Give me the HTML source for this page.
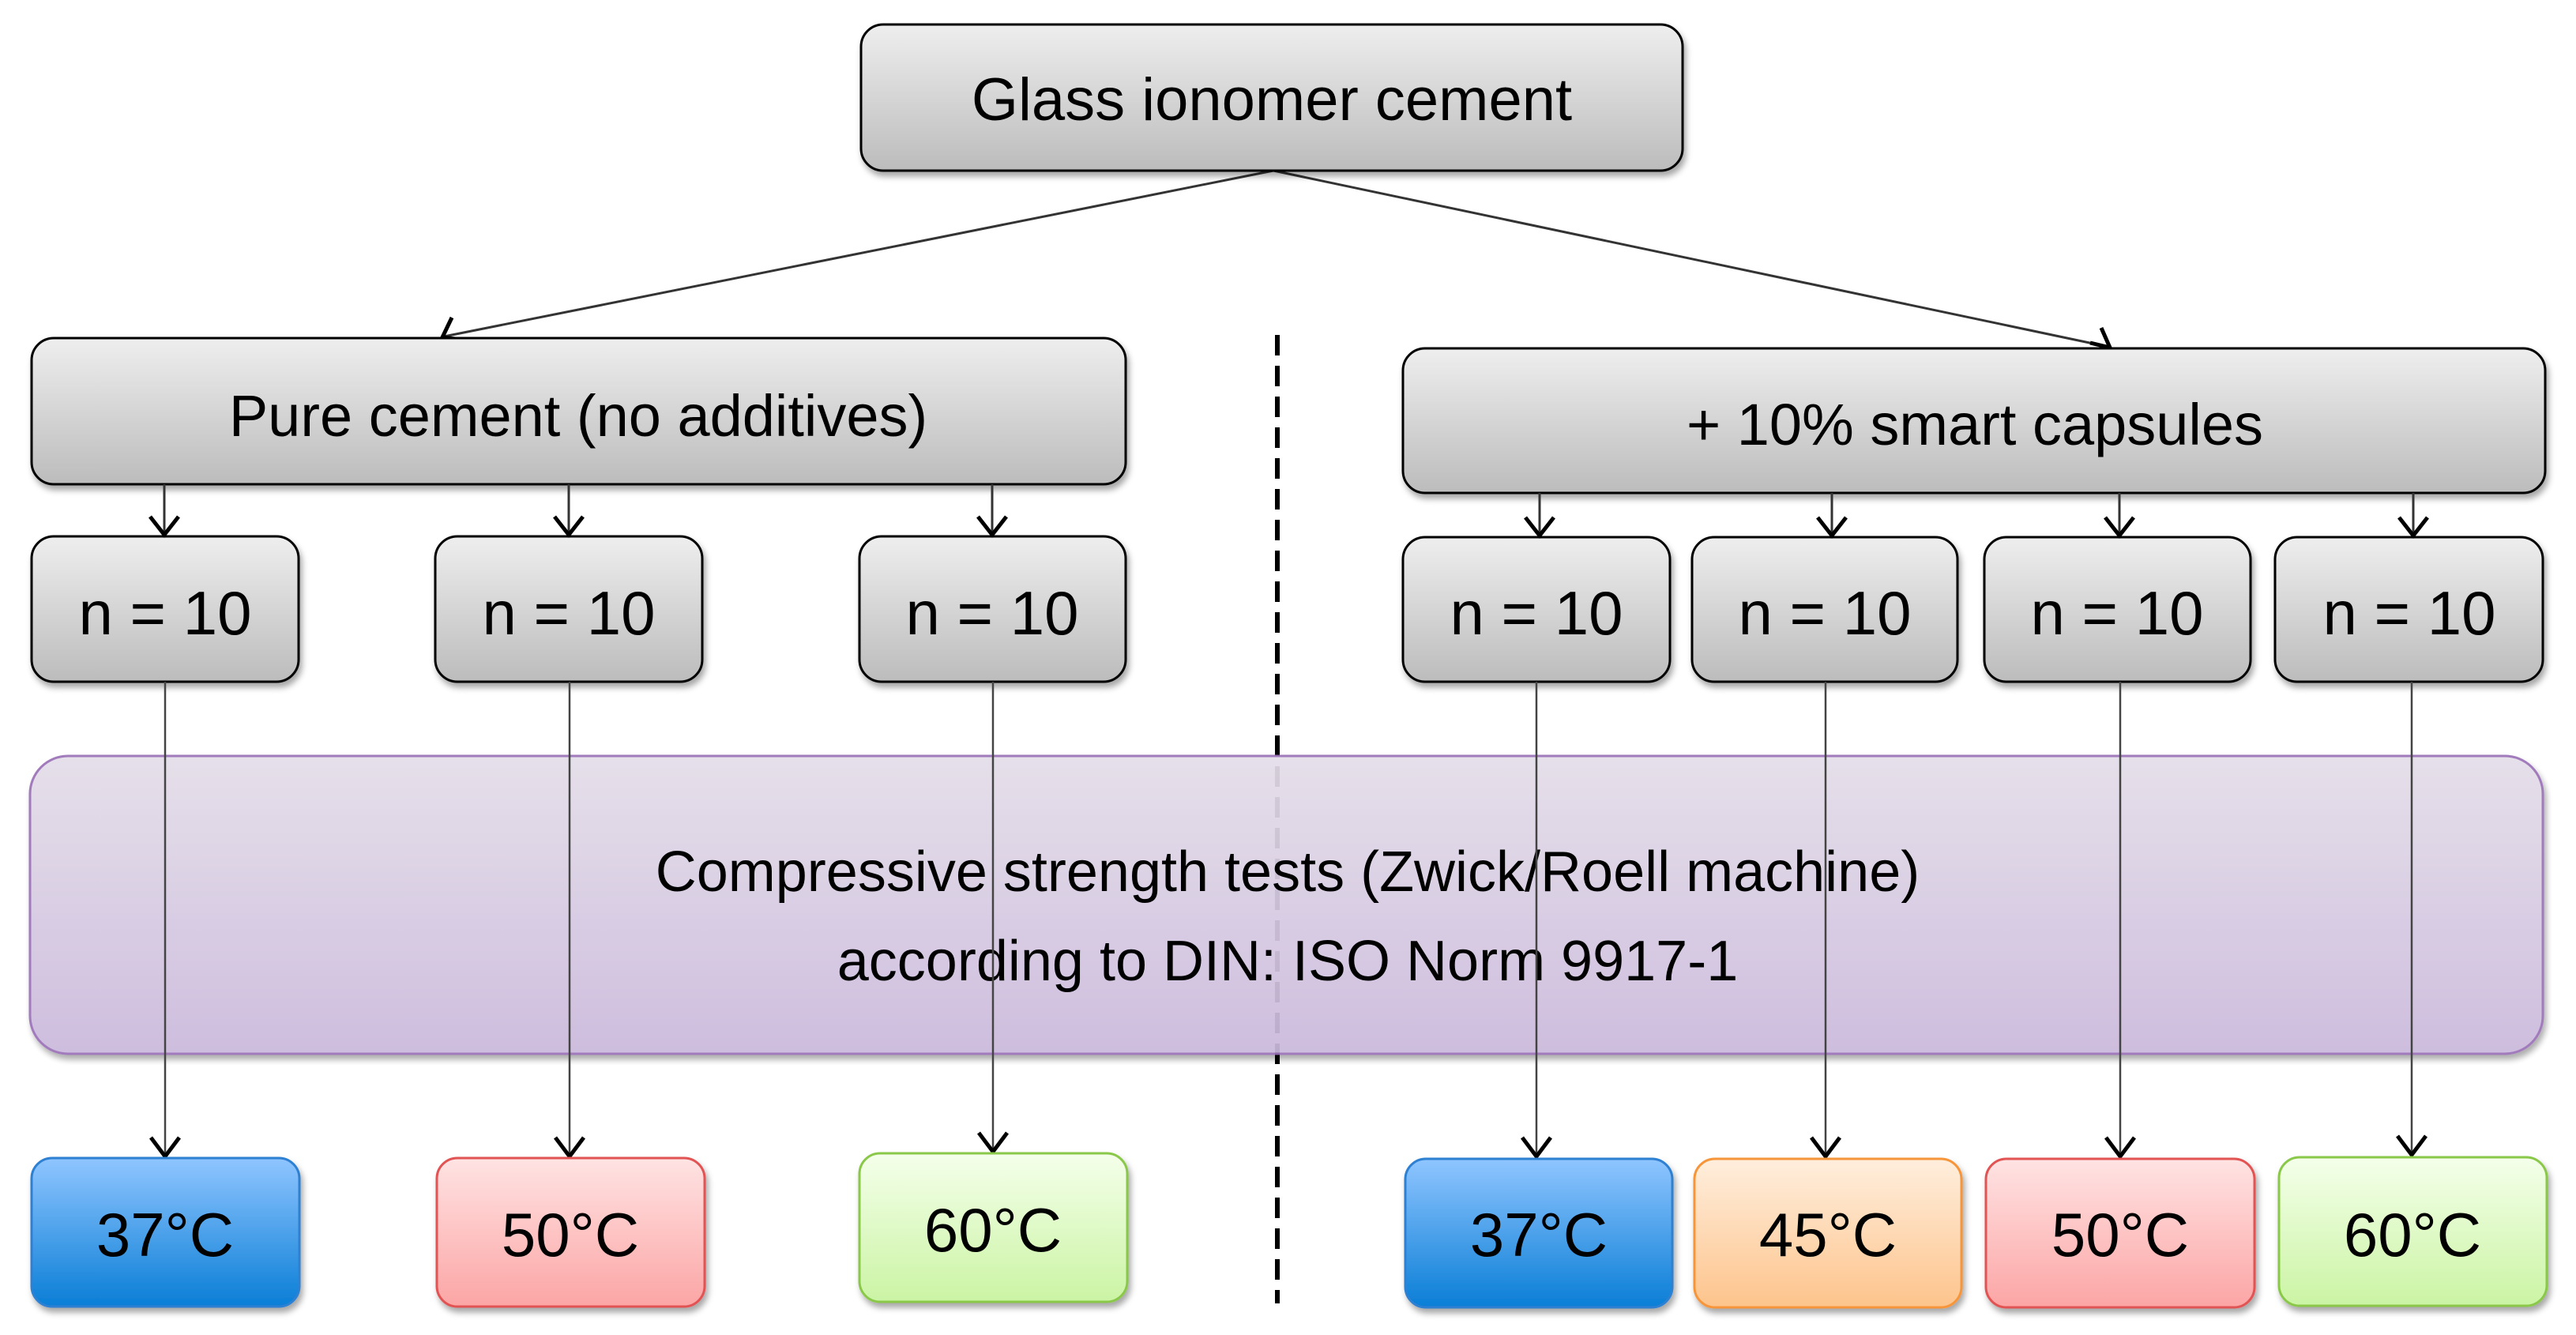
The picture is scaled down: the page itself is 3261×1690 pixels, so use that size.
<!DOCTYPE html>
<html><head><meta charset="utf-8"><style>
html,body{margin:0;padding:0;background:#fff;}
svg{display:block;}
text{font-family:"Liberation Sans",Arial,sans-serif;fill:#000;text-anchor:middle;}
</style></head><body>
<svg width="3261" height="1690" viewBox="0 0 3261 1690" xmlns="http://www.w3.org/2000/svg">
<defs>
<linearGradient id="g" x1="0" y1="0" x2="0" y2="1"><stop offset="0" stop-color="#eeeeee"/><stop offset="1" stop-color="#bcbcbc"/></linearGradient>
<linearGradient id="p" x1="0" y1="0" x2="0" y2="1"><stop offset="0" stop-color="#e4dee9"/><stop offset="1" stop-color="#cbb9dc"/></linearGradient>
<linearGradient id="b" x1="0" y1="0" x2="0" y2="1"><stop offset="0" stop-color="#8fc5ff"/><stop offset="1" stop-color="#0a7ed6"/></linearGradient>
<linearGradient id="o" x1="0" y1="0" x2="0" y2="1"><stop offset="0" stop-color="#ffeedd"/><stop offset="1" stop-color="#fdc48c"/></linearGradient>
<linearGradient id="r" x1="0" y1="0" x2="0" y2="1"><stop offset="0" stop-color="#ffe3e3"/><stop offset="1" stop-color="#fca5a5"/></linearGradient>
<linearGradient id="gr" x1="0" y1="0" x2="0" y2="1"><stop offset="0" stop-color="#f4ffea"/><stop offset="1" stop-color="#cbf4a4"/></linearGradient>
<filter id="sh" x="-10%" y="-10%" width="120%" height="130%"><feDropShadow dx="3" dy="6" stdDeviation="4" flood-color="#000" flood-opacity="0.35"/></filter>
</defs>

<!-- dashed divider -->
<line x1="1617" y1="424" x2="1617" y2="1650" stroke="#000" stroke-width="6" stroke-dasharray="26,13"/>

<!-- connectors from glass -->
<line x1="1612" y1="216" x2="562" y2="426" stroke="#333" stroke-width="3"/>
<polyline points="572,402 560,427 585,430" fill="none" stroke="#000" stroke-width="5"/>
<line x1="1612" y1="216" x2="2669" y2="439" stroke="#333" stroke-width="3"/>
<polyline points="2646,434 2671,440 2660,415" fill="none" stroke="#000" stroke-width="5"/>

<g filter="url(#sh)" stroke="#000" stroke-width="3">
<rect x="1090" y="31" width="1040" height="185" rx="28" fill="url(#g)"/>
<rect x="40" y="428" width="1385" height="185" rx="28" fill="url(#g)"/>
<rect x="1776" y="441" width="1446" height="183" rx="28" fill="url(#g)"/>
<rect x="40" y="679" width="338" height="184" rx="28" fill="url(#g)"/>
<rect x="551" y="679" width="338" height="184" rx="28" fill="url(#g)"/>
<rect x="1088" y="679" width="337" height="184" rx="28" fill="url(#g)"/>
<rect x="1776" y="680" width="338" height="183" rx="28" fill="url(#g)"/>
<rect x="2142" y="680" width="336" height="183" rx="28" fill="url(#g)"/>
<rect x="2512" y="680" width="337" height="183" rx="28" fill="url(#g)"/>
<rect x="2880" y="680" width="339" height="183" rx="28" fill="url(#g)"/>
</g>

<!-- short arrows -->
<g stroke="#333" stroke-width="3">
<line x1="208" y1="613" x2="208" y2="676"/><line x1="720" y1="613" x2="720" y2="676"/><line x1="1256" y1="613" x2="1256" y2="676"/>
<line x1="1949" y1="624" x2="1949" y2="677"/><line x1="2319" y1="624" x2="2319" y2="677"/><line x1="2683" y1="624" x2="2683" y2="677"/><line x1="3055" y1="624" x2="3055" y2="677"/>
</g>
<g fill="none" stroke="#000" stroke-width="5">
<polyline points="190,654 208,677 226,654"/><polyline points="702,654 720,677 738,654"/><polyline points="1238,654 1256,677 1274,654"/>
<polyline points="1931,655 1949,678 1967,655"/><polyline points="2301,655 2319,678 2337,655"/><polyline points="2665,655 2683,678 2701,655"/><polyline points="3037,655 3055,678 3073,655"/>
</g>

<!-- purple band -->
<rect x="38" y="957" width="3181" height="377" rx="48" fill="url(#p)" stroke="#9a72b8" stroke-width="3" opacity="0.93" filter="url(#sh)"/>
<text x="1630" y="1128" font-size="72">Compressive strength tests (Zwick/Roell machine)</text>
<text x="1630" y="1241" font-size="72">according to DIN: ISO Norm 9917-1</text>

<!-- long lines -->
<g stroke="#444" stroke-width="2.5">
<line x1="209" y1="863" x2="209" y2="1464"/><line x1="721" y1="863" x2="721" y2="1464"/><line x1="1257" y1="863" x2="1257" y2="1458"/>
<line x1="1945" y1="863" x2="1945" y2="1464"/><line x1="2311" y1="863" x2="2311" y2="1464"/><line x1="2684" y1="863" x2="2684" y2="1464"/><line x1="3053" y1="863" x2="3053" y2="1462"/>
</g>
<g fill="none" stroke="#000" stroke-width="5">
<polyline points="191,1440 209,1464 227,1440"/><polyline points="703,1440 721,1464 739,1440"/><polyline points="1239,1434 1257,1458 1275,1434"/>
<polyline points="1927,1440 1945,1464 1963,1440"/><polyline points="2293,1440 2311,1464 2329,1440"/><polyline points="2666,1440 2684,1464 2702,1440"/><polyline points="3035,1438 3053,1462 3071,1438"/>
</g>

<!-- temperature boxes -->
<g filter="url(#sh)" stroke-width="3">
<rect x="40" y="1466" width="339" height="188" rx="26" fill="url(#b)" stroke="#2d80d2"/>
<rect x="553" y="1466" width="339" height="188" rx="26" fill="url(#r)" stroke="#e25252"/>
<rect x="1088" y="1460" width="339" height="188" rx="26" fill="url(#gr)" stroke="#8ac84a"/>
<rect x="1779" y="1467" width="338" height="188" rx="26" fill="url(#b)" stroke="#2d80d2"/>
<rect x="2145" y="1467" width="338" height="188" rx="26" fill="url(#o)" stroke="#f7953b"/>
<rect x="2514" y="1467" width="340" height="188" rx="26" fill="url(#r)" stroke="#e25252"/>
<rect x="2885" y="1465" width="339" height="188" rx="26" fill="url(#gr)" stroke="#8ac84a"/>
</g>

<!-- labels -->
<text x="1610" y="152" font-size="76">Glass ionomer cement</text>
<text x="732" y="552" font-size="74">Pure cement (no additives)</text>
<text x="2500" y="563" font-size="74">+ 10% smart capsules</text>
<g font-size="78">
<text x="209" y="803">n = 10</text><text x="720" y="803">n = 10</text><text x="1256" y="803">n = 10</text>
<text x="1945" y="803">n = 10</text><text x="2310" y="803">n = 10</text><text x="2680" y="803">n = 10</text><text x="3050" y="803">n = 10</text>
<text x="209" y="1590">37°C</text><text x="722" y="1590">50°C</text><text x="1257" y="1584">60°C</text>
<text x="1948" y="1590">37°C</text><text x="2314" y="1590">45°C</text><text x="2684" y="1590">50°C</text><text x="3054" y="1590">60°C</text>
</g>
</svg>
</body></html>
